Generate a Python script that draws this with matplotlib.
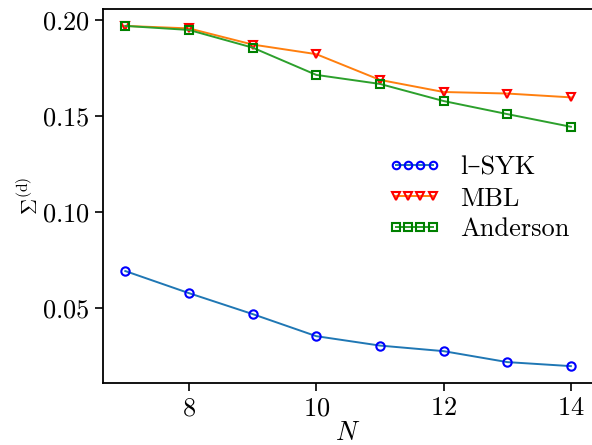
import matplotlib
matplotlib.use("Agg")
import matplotlib.pyplot as plt

plt.rcParams['font.family'] = ['cmr10', 'DejaVu Serif']
plt.rcParams['mathtext.fontset'] = 'cm'
plt.rcParams['axes.formatter.use_mathtext'] = True

N = [7, 8, 9, 10, 11, 12, 13, 14]
lsyk = [0.0693, 0.0578, 0.0469, 0.0354, 0.0305, 0.0276, 0.0219, 0.0198]
mbl = [0.1969, 0.1956, 0.1872, 0.1822, 0.1688, 0.1625, 0.1617, 0.1597]
anderson = [0.1969, 0.1948, 0.1856, 0.1714, 0.1667, 0.1578, 0.1510, 0.1444]
labels = ['l–SYK', 'MBL', 'Anderson']

fig = plt.figure(figsize=(5.92, 4.45), dpi=100)
ax = fig.add_axes([0.174, 0.139, 0.828, 0.841])

ax.plot(N, lsyk, color='tab:blue', marker='o', mec='blue', mfc='none', ms=6, mew=1.5, lw=1.4, label=labels[0])
ax.plot(N, mbl, color='tab:orange', marker='v', mec='red', mfc='none', ms=6, mew=1.5, lw=1.4, label=labels[1])
ax.plot(N, anderson, color='tab:green', marker='s', mec='green', mfc='none', ms=6, mew=1.5, lw=1.4, label=labels[2])

ax.set_xticks([8, 10, 12, 14])
ax.set_yticks([0.05, 0.10, 0.15, 0.20])
ax.tick_params(labelsize=19, length=6, width=1.2)
for s in ax.spines.values():
    s.set_linewidth(1.3)

ax.set_xlabel(r'$N$', fontsize=19, labelpad=0.5)
ax.set_ylabel(r'$\Sigma^{(\mathrm{d})}$', fontsize=16, labelpad=0)

leg = ax.legend(loc='center right', bbox_to_anchor=(0.99, 0.493), numpoints=4, frameon=False, fontsize=19,
                handlelength=2.0, handletextpad=0.75, labelspacing=0.27, borderaxespad=0.3,
                markerscale=0.9)

fig.savefig('out.png', dpi=100)
